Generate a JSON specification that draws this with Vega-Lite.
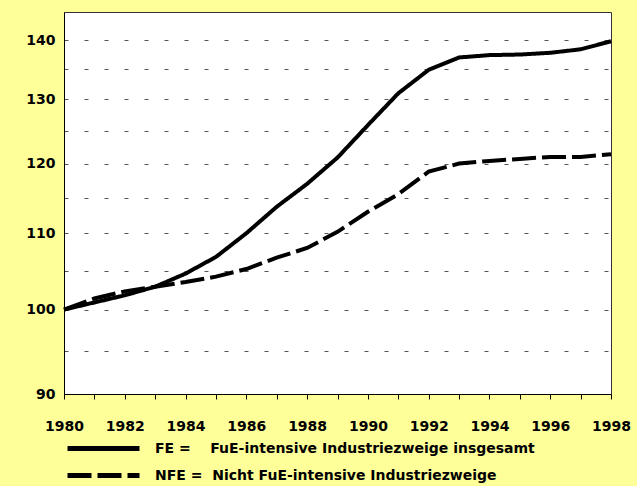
{
  "$schema": "https://vega.github.io/schema/vega-lite/v6.json",
  "width": 547,
  "height": 382,
  "autosize": {"type": "none"},
  "padding": {"left": 64, "top": 12, "right": 26, "bottom": 92},
  "background": "#FFFF99",
  "config": {
    "view": {"fill": "white", "stroke": "#333", "strokeWidth": 1},
    "font": "DejaVu Sans",
    "axis": {"labelFont": "DejaVu Sans", "labelFontWeight": "bold", "labelFontSize": 14, "labelColor": "black", "domainColor": "black", "tickColor": "black", "title": null}
  },
  "data": {
    "values": [
      {"year": 1980, "series": "FE", "value": 100},
      {"year": 1981, "series": "FE", "value": 100.9},
      {"year": 1982, "series": "FE", "value": 101.8},
      {"year": 1983, "series": "FE", "value": 102.9},
      {"year": 1984, "series": "FE", "value": 104.6},
      {"year": 1985, "series": "FE", "value": 106.8},
      {"year": 1986, "series": "FE", "value": 110.0},
      {"year": 1987, "series": "FE", "value": 113.7},
      {"year": 1988, "series": "FE", "value": 117.0},
      {"year": 1989, "series": "FE", "value": 120.9},
      {"year": 1990, "series": "FE", "value": 125.9},
      {"year": 1991, "series": "FE", "value": 131.0},
      {"year": 1992, "series": "FE", "value": 134.9},
      {"year": 1993, "series": "FE", "value": 137.0},
      {"year": 1994, "series": "FE", "value": 137.4},
      {"year": 1995, "series": "FE", "value": 137.5},
      {"year": 1996, "series": "FE", "value": 137.8},
      {"year": 1997, "series": "FE", "value": 138.4},
      {"year": 1998, "series": "FE", "value": 139.8},
      {"year": 1980, "series": "NFE", "value": 100},
      {"year": 1981, "series": "NFE", "value": 101.4},
      {"year": 1982, "series": "NFE", "value": 102.3},
      {"year": 1983, "series": "NFE", "value": 102.9},
      {"year": 1984, "series": "NFE", "value": 103.5},
      {"year": 1985, "series": "NFE", "value": 104.2},
      {"year": 1986, "series": "NFE", "value": 105.2},
      {"year": 1987, "series": "NFE", "value": 106.7},
      {"year": 1988, "series": "NFE", "value": 108.0},
      {"year": 1989, "series": "NFE", "value": 110.2},
      {"year": 1990, "series": "NFE", "value": 113.0},
      {"year": 1991, "series": "NFE", "value": 115.5},
      {"year": 1992, "series": "NFE", "value": 118.8},
      {"year": 1993, "series": "NFE", "value": 120.0},
      {"year": 1994, "series": "NFE", "value": 120.4},
      {"year": 1995, "series": "NFE", "value": 120.7},
      {"year": 1996, "series": "NFE", "value": 121.0},
      {"year": 1997, "series": "NFE", "value": 121.0},
      {"year": 1998, "series": "NFE", "value": 121.4}
    ]
  },
  "mark": {"type": "line", "color": "black", "strokeWidth": 4, "clip": false},
  "encoding": {
    "x": {
      "field": "year", "type": "quantitative",
      "scale": {"domain": [1980, 1998], "nice": false, "zero": false},
      "axis": {
        "values": [1980,1981,1982,1983,1984,1985,1986,1987,1988,1989,1990,1991,1992,1993,1994,1995,1996,1997,1998],
        "format": "d",
        "labelExpr": "datum.value % 2 == 0 ? datum.label : ''",
        "tickSize": 5, "labelPadding": 20, "grid": false, "labelFlush": false, "labelOverlap": false
      }
    },
    "y": {
      "field": "value", "type": "quantitative",
      "scale": {"type": "log", "domain": [90, 145], "nice": false},
      "axis": {
        "values": [90,95,100,105,110,115,120,125,130,135,140],
        "labelExpr": "datum.value % 10 == 0 ? datum.value : ''",
        "tickSize": 0, "labelPadding": 9, "grid": true, "gridColor": "#555", "gridDash": [4, 16], "gridWidth": 1, "labelOverlap": false
      }
    },
    "strokeDash": {
      "field": "series", "type": "nominal",
      "scale": {"domain": ["FE", "NFE"], "range": [[1, 0], [24, 6]]},
      "legend": {
        "orient": "none", "legendX": 31, "legendY": 428, "title": null, "direction": "vertical",
        "rowPadding": 6,
        "symbolType": "M-6,0H6", "symbolSize": 144, "symbolStrokeWidth": 5, "symbolStrokeColor": "black",
        "labelFont": "DejaVu Sans", "labelFontWeight": "bold", "labelFontSize": 14, "labelColor": "black",
        "labelOffset": 43, "labelLimit": 600,
        "labelExpr": "datum.label == 'FE' ? 'FE =\u00a0\u00a0\u00a0\u00a0FuE-intensive Industriezweige insgesamt' : 'NFE =\u00a0\u00a0Nicht FuE-intensive Industriezweige'"
      }
    }
  }
}
